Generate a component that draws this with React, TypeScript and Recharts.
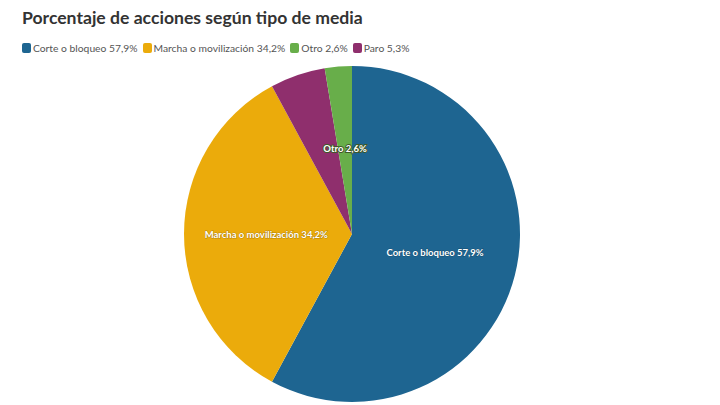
import { Cell, Pie, PieChart } from "recharts";

const categories = ["Corte o bloqueo", "Marcha o movilización", "Paro", "Otro"];
const values = [57.9, 34.2, 5.3, 2.6];
const colors = ["#1e6591", "#ebab0b", "#8f2f6d", "#68ae4a"];
const showLabel = [true, true, false, true];
const legendOrder = [0, 1, 3, 2];

const fmt = (v: number) => v.toFixed(1).replace(".", ",") + "%";

const data = categories.map((name, i) => ({ name, value: values[i] }));

const RAD = Math.PI / 180;

const renderLabel = (props: any) => {
  const { cx, cy, midAngle, outerRadius, index } = props;
  if (!showLabel[index]) return null;
  const r = outerRadius * 0.51;
  const x = cx + r * Math.cos(-midAngle * RAD);
  const y = cy + r * Math.sin(-midAngle * RAD) - (index === 0 ? 3 : 0);
  const halo = index === 3 ? "#3f5a2a" : "rgba(0,0,0,0.25)";
  return (
    <text
      x={x}
      y={y}
      fill="#fff"
      stroke={halo}
      strokeWidth={index === 3 ? 2 : 1}
      paintOrder="stroke"
      textAnchor="middle"
      dominantBaseline="central"
      fontFamily="Lato, sans-serif"
      fontWeight={700}
      fontSize={9.5}
    >
      {`${categories[index]} ${fmt(values[index])}`}
    </text>
  );
};

const App = () => {
  return (
    <div
      style={{
        position: "absolute",
        left: 0,
        top: 0,
        width: 720,
        height: 405,
        background: "#fff",
        fontFamily: "Lato, sans-serif",
        overflow: "hidden",
      }}
    >
      <PieChart
        width={720}
        height={405}
        margin={{ top: 0, right: 0, bottom: 0, left: 0 }}
        style={{ position: "absolute", left: 0, top: 0 }}
      >
        <Pie
          data={data}
          dataKey="value"
          nameKey="name"
          cx={352}
          cy={234}
          outerRadius={168}
          startAngle={90}
          endAngle={-270}
          stroke="none"
          labelLine={false}
          label={renderLabel}
          isAnimationActive={false}
        >
          {data.map((d, i) => (
            <Cell key={d.name} fill={colors[i]} />
          ))}
        </Pie>
      </PieChart>
      <div
        style={{
          position: "absolute",
          left: 22,
          top: 7,
          fontSize: 17.6,
          fontWeight: 700,
          color: "#333",
          whiteSpace: "nowrap",
        }}
      >
        Porcentaje de acciones según tipo de media
      </div>
      <div
        style={{
          position: "absolute",
          left: 22,
          top: 42,
          display: "flex",
          alignItems: "center",
          fontSize: 10.3,
          color: "#555",
          whiteSpace: "nowrap",
        }}
      >
        {legendOrder.map((i) => (
          <div key={i} style={{ display: "flex", alignItems: "center", marginRight: 5 }}>
            <span
              style={{
                display: "inline-block",
                width: 9,
                height: 10,
                borderRadius: 2,
                background: colors[i],
                marginRight: 2,
              }}
            />
            <span>{`${categories[i]} ${fmt(values[i])}`}</span>
          </div>
        ))}
      </div>
    </div>
  );
};

export default App;
